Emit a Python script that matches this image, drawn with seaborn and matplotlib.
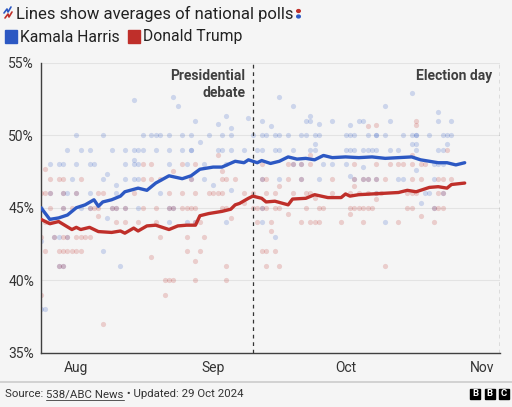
import pandas as pd
import matplotlib
matplotlib.use("Agg")
import matplotlib.pyplot as plt
from matplotlib.lines import Line2D
from matplotlib.patches import Rectangle, Circle
import seaborn as sns

# ---- data ----
harris_avg_dates = ["07-24", "07-26", "07-28", "07-30", "08-01", "08-03", "08-05", "08-06",
                    "08-07", "08-09", "08-11", "08-12", "08-15", "08-17", "08-19", "08-22",
                    "08-25", "08-27", "08-29", "09-01", "09-03", "09-06", "09-08", "09-09",
                    "09-11", "09-12", "09-14", "09-16", "09-18", "09-20", "09-22", "09-24",
                    "09-26", "09-28", "10-01", "10-04", "10-07", "10-10", "10-13", "10-16",
                    "10-18", "10-20", "10-22", "10-24", "10-26", "10-28"]
harris_avg = [45.0, 44.2, 44.3, 44.5, 45.0, 45.2, 45.55, 45.1,
              45.4, 45.55, 45.8, 46.1, 46.35, 46.2, 46.7, 47.2,
              47.0, 47.2, 47.65, 47.8, 47.8, 48.2, 48.1, 48.3,
              48.1, 48.25, 48.05, 48.2, 48.5, 48.35, 48.4, 48.3,
              48.6, 48.45, 48.5, 48.45, 48.5, 48.4, 48.45, 48.5,
              48.3, 48.2, 48.1, 48.1, 47.95, 48.1]

trump_avg_dates = ["07-24", "07-26", "07-28", "07-31", "08-01", "08-02", "08-04", "08-06",
                   "08-09", "08-11", "08-12", "08-14", "08-15", "08-17", "08-19", "08-22",
                   "08-24", "08-26", "08-28", "08-29", "08-31", "09-03", "09-05", "09-06",
                   "09-07", "09-09", "09-10", "09-12", "09-13", "09-15", "09-18", "09-19",
                   "09-22", "09-24", "09-27", "09-30", "10-01", "10-02", "10-04", "10-07",
                   "10-10", "10-13", "10-15", "10-17", "10-20", "10-22", "10-24", "10-25",
                   "10-28"]
trump_avg = [44.2, 43.9, 44.05, 43.5, 43.65, 43.5, 43.65, 43.36,
             43.3, 43.4, 43.25, 43.6, 43.4, 43.75, 43.8, 43.5,
             43.75, 43.8, 43.8, 44.45, 44.6, 44.75, 44.9, 45.2,
             45.3, 45.65, 45.8, 45.65, 45.4, 45.45, 45.2, 45.6,
             45.65, 45.9, 45.7, 45.7, 45.95, 45.8, 45.9, 45.95,
             46.0, 46.05, 46.2, 46.1, 46.4, 46.45, 46.35, 46.6,
             46.7]

harris_polls = [
    ("07-24", 45), ("07-24", 42.7), ("07-24", 38), ("07-25", 38),
    ("07-26", 48), ("07-26", 46), ("07-27", 43),
    ("07-28", 48), ("07-28", 43), ("07-28", 41),
    ("07-29", 48), ("07-29", 46), ("07-29", 45), ("07-29", 41),
    ("07-30", 49), ("07-30", 46), ("07-30", 43), ("07-31", 47),
    ("08-01", 50), ("08-01", 48), ("08-01", 46), ("08-02", 49), ("08-02", 45),
    ("08-04", 49), ("08-04", 48), ("08-04", 46), ("08-04", 45), ("08-05", 48),
    ("08-07", 50), ("08-07", 47), ("08-07", 42), ("08-08", 47.3), ("08-08", 44.3),
    ("08-09", 49), ("08-09", 45), ("08-10", 46.6), ("08-10", 46), ("08-10", 45),
    ("08-11", 41), ("08-12", 49), ("08-12", 48), ("08-12", 47), ("08-12", 45),
    ("08-14", 52.4), ("08-14", 49), ("08-14", 48.3), ("08-14", 48), ("08-14", 47),
    ("08-15", 49), ("08-15", 48), ("08-15", 47), ("08-15", 45),
    ("08-16", 50), ("08-16", 49), ("08-18", 50), ("08-19", 50), ("08-19", 49),
    ("08-20", 50), ("08-20", 46),
    ("08-22", 50), ("08-22", 49), ("08-22", 48), ("08-22", 45), ("08-22", 44),
    ("08-23", 52.6), ("08-23", 45), ("08-24", 52), ("08-25", 50), ("08-25", 49),
    ("08-26", 48), ("08-26", 44),
    ("08-27", 50), ("08-27", 49), ("08-27", 49), ("08-27", 47),
    ("08-28", 51), ("08-28", 44), ("08-29", 49.5), ("08-30", 48), ("08-30", 47),
    ("08-31", 50), ("09-01", 46.6), ("09-02", 50.8), ("09-02", 49),
    ("09-03", 50), ("09-03", 49), ("09-04", 51.3), ("09-04", 48), ("09-04", 44),
    ("09-05", 50.5), ("09-05", 50), ("09-05", 49), ("09-05", 46.2),
    ("09-08", 49), ("09-09", 51.2), ("09-10", 50), ("09-11", 49),
    ("09-12", 51), ("09-12", 50), ("09-12", 49), ("09-12", 47), ("09-12", 45), ("09-12", 44),
    ("09-13", 50), ("09-14", 50.6), ("09-15", 50), ("09-15", 49), ("09-15", 43),
    ("09-16", 52.6), ("09-16", 50), ("09-16", 49), ("09-16", 47), ("09-18", 50),
    ("09-19", 52), ("09-19", 49), ("09-19", 48),
    ("09-21", 50), ("09-21", 48), ("09-21", 47), ("09-22", 51), ("09-22", 50),
    ("09-23", 51.3), ("09-23", 51), ("09-23", 49),
    ("09-24", 50), ("09-24", 49.4), ("09-24", 49),
    ("09-25", 50.8), ("09-25", 50), ("09-25", 47), ("09-26", 48),
    ("09-28", 51), ("09-28", 48),
    ("10-01", 50), ("10-01", 49), ("10-01", 48),
    ("10-02", 50.7), ("10-02", 50), ("10-02", 49), ("10-02", 47.2),
    ("10-03", 50), ("10-03", 49), ("10-03", 47), ("10-04", 51),
    ("10-05", 51), ("10-05", 49), ("10-05", 47.8), ("10-05", 47),
    ("10-06", 50), ("10-06", 49), ("10-06", 47), ("10-07", 49),
    ("10-08", 50), ("10-08", 50), ("10-08", 49), ("10-08", 47), ("10-08", 46),
    ("10-10", 52), ("10-10", 50), ("10-10", 44), ("10-11", 51), ("10-11", 49),
    ("10-13", 49), ("10-13", 47), ("10-14", 50), ("10-14", 47),
    ("10-16", 52.9), ("10-16", 50), ("10-16", 49.4),
    ("10-17", 50), ("10-17", 50), ("10-17", 49.4), ("10-17", 49), ("10-17", 47.6),
    ("10-18", 45.3), ("10-19", 46), ("10-20", 50), ("10-20", 46),
    ("10-21", 48), ("10-21", 47), ("10-21", 45),
    ("10-22", 51.6), ("10-22", 51), ("10-22", 49), ("10-22", 48),
    ("10-23", 50), ("10-23", 49), ("10-23", 48), ("10-23", 46),
    ("10-24", 50), ("10-24", 49.4), ("10-25", 51), ("10-25", 50),
]

trump_polls = [
    ("07-24", 46), ("07-24", 43), ("07-24", 39),
    ("07-25", 47.7), ("07-25", 46), ("07-25", 44), ("07-25", 42),
    ("07-26", 47), ("07-26", 46), ("07-26", 45), ("07-26", 44), ("07-27", 43),
    ("07-28", 47), ("07-28", 42), ("07-28", 41),
    ("07-29", 47), ("07-29", 46), ("07-29", 45), ("07-29", 43), ("07-29", 42), ("07-29", 41),
    ("07-30", 43), ("07-30", 42), ("07-31", 45), ("07-31", 42),
    ("08-01", 46), ("08-01", 43), ("08-01", 42), ("08-02", 47), ("08-02", 43), ("08-02", 42),
    ("08-03", 43), ("08-04", 45), ("08-04", 43), ("08-05", 45),
    ("08-06", 46), ("08-06", 45), ("08-06", 44.4), ("08-07", 46), ("08-07", 37),
    ("08-09", 45), ("08-10", 45), ("08-10", 44), ("08-12", 45), ("08-12", 44),
    ("08-14", 46), ("08-15", 44), ("08-16", 48), ("08-16", 47), ("08-16", 45),
    ("08-18", 48), ("08-18", 47), ("08-18", 41.6), ("08-19", 45), ("08-19", 44),
    ("08-20", 47), ("08-20", 43), ("08-21", 40), ("08-21", 39),
    ("08-22", 46), ("08-22", 45), ("08-22", 40),
    ("08-23", 47.5), ("08-23", 45), ("08-23", 40),
    ("08-25", 48), ("08-25", 46), ("08-25", 45),
    ("08-26", 45), ("08-26", 43), ("08-26", 42), ("08-27", 47), ("08-27", 45),
    ("08-28", 48), ("08-28", 46), ("08-28", 45), ("08-28", 44), ("08-28", 41.3), ("08-28", 40),
    ("08-29", 44), ("08-29", 42), ("08-30", 43), ("08-31", 46), ("09-01", 46),
    ("09-02", 48.6), ("09-02", 46),
    ("09-03", 47.5), ("09-03", 47), ("09-03", 46), ("09-03", 45),
    ("09-04", 47), ("09-04", 45), ("09-04", 41), ("09-04", 40),
    ("09-05", 44.3), ("09-06", 47), ("09-08", 46), ("09-08", 45.3),
    ("09-10", 46), ("09-10", 45), ("09-11", 45), ("09-11", 44),
    ("09-12", 48), ("09-12", 47), ("09-12", 45), ("09-12", 42),
    ("09-13", 47), ("09-13", 46), ("09-13", 45), ("09-13", 42), ("09-13", 41),
    ("09-14", 44), ("09-14", 43.4), ("09-15", 46), ("09-15", 45), ("09-15", 42),
    ("09-16", 46.5), ("09-16", 45), ("09-16", 41),
    ("09-18", 48), ("09-18", 47), ("09-18", 44.6), ("09-19", 48), ("09-19", 46),
    ("09-21", 48), ("09-21", 47), ("09-21", 44), ("09-22", 46), ("09-22", 45),
    ("09-23", 48.6), ("09-23", 48), ("09-23", 46), ("09-23", 44),
    ("09-24", 45.7), ("09-24", 44), ("09-25", 45), ("09-25", 44), ("09-26", 45),
    ("09-28", 47), ("09-28", 46), ("09-30", 44),
    ("10-02", 46), ("10-02", 45), ("10-02", 44.6),
    ("10-03", 48), ("10-03", 47), ("10-03", 46.5), ("10-03", 45),
    ("10-04", 46), ("10-04", 45), ("10-05", 47), ("10-05", 45), ("10-05", 44),
    ("10-06", 50.6), ("10-06", 47), ("10-06", 46), ("10-06", 45), ("10-07", 45),
    ("10-08", 50.7), ("10-08", 48), ("10-08", 47), ("10-08", 46), ("10-08", 45.6),
    ("10-09", 46), ("10-10", 47), ("10-10", 41), ("10-11", 48),
    ("10-13", 48), ("10-13", 44), ("10-14", 48), ("10-15", 46), ("10-15", 45),
    ("10-16", 48.6), ("10-16", 48), ("10-16", 47), ("10-16", 46), ("10-16", 45),
    ("10-17", 51), ("10-17", 50.7), ("10-17", 46),
    ("10-18", 48), ("10-18", 47), ("10-18", 44.4), ("10-19", 48),
    ("10-21", 45), ("10-21", 44), ("10-22", 47), ("10-22", 46), ("10-22", 45),
    ("10-23", 47), ("10-23", 46), ("10-23", 45), ("10-24", 49), ("10-25", 47),
]

y_ticks = [35, 40, 45, 50, 55]
x_ticks = ["08-01", "09-01", "10-01", "11-01"]
x_tick_labels = ["Aug", "Sep", "Oct", "Nov"]
events = [("09-10", "Presidential", "debate"), ("11-05", "Election day", None)]

BG = "#f5f5f5"
BLUE = "#2c58c3"
RED = "#bf2f2a"
INK = "#404040"
W, H = 512, 407


def day(s):
    return pd.to_datetime("2024-" + s)


def avg_frame(dates, vals):
    return pd.DataFrame({"date": [day(d) for d in dates], "pct": vals})


def poll_frame(pairs):
    return pd.DataFrame({"date": [day(d) for d, _ in pairs], "pct": [v for _, v in pairs]})


def fx(px):
    return px / W


def fy(py):
    return 1 - py / H


sns.set_style("white", {"axes.facecolor": BG, "figure.facecolor": BG})
plt.rcParams["font.family"] = ["Roboto", "DejaVu Sans"]

fig = plt.figure(figsize=(W / 100, H / 100), dpi=100)
fig.patch.set_facecolor(BG)
ax = fig.add_axes([fx(41), fy(353), fx(500) - fx(41), fy(62.5) - fy(353)])
ax.set_facecolor(BG)

# poll dots
sns.scatterplot(data=poll_frame(harris_polls), x="date", y="pct", color=BLUE,
                alpha=0.2, s=14, linewidth=0, ax=ax, zorder=2)
sns.scatterplot(data=poll_frame(trump_polls), x="date", y="pct", color=RED,
                alpha=0.2, s=14, linewidth=0, ax=ax, zorder=2)

# polling averages
sns.lineplot(data=avg_frame(harris_avg_dates, harris_avg), x="date", y="pct",
             color=BLUE, lw=2.4, estimator=None, ax=ax, zorder=4)
sns.lineplot(data=avg_frame(trump_avg_dates, trump_avg), x="date", y="pct",
             color=RED, lw=2.4, estimator=None, ax=ax, zorder=4)

# event markers
for d, l1, l2 in events:
    ax.axvline(day(d), color="#333333", lw=0.9, ls=(0, (3, 3)), zorder=3)
    ax.annotate(l1, xy=(day(d), 55), xytext=(-5.5, -12.5), textcoords="offset points",
                ha="right", va="baseline", fontsize=10, fontweight="bold", color=INK)
    if l2:
        ax.annotate(l2, xy=(day(d), 55), xytext=(-5.5, -24.5), textcoords="offset points",
                    ha="right", va="baseline", fontsize=10, fontweight="bold", color=INK)

ax.set_xlim(day("07-24"), day("11-05"))
ax.set_ylim(35, 55)
ax.set_yticks(y_ticks)
ax.set_yticklabels([f"{v}%" for v in y_ticks])
ax.set_xticks([day(d) for d in x_ticks])
ax.set_xticklabels(x_tick_labels)
ax.set_xlabel("")
ax.set_ylabel("")
ax.yaxis.grid(True, color="#e3e3e3", lw=0.8, zorder=0)
ax.xaxis.grid(False)
ax.set_axisbelow(True)
for side in ["top", "right"]:
    ax.spines[side].set_visible(False)
for side in ["left", "bottom"]:
    ax.spines[side].set_color(INK)
    ax.spines[side].set_linewidth(1.0)
ax.tick_params(axis="both", colors=INK, labelcolor="#333333", labelsize=10,
               length=3, width=0.9, direction="out", pad=2)
ax.tick_params(axis="x", pad=3)

renderer = fig.canvas.get_renderer()

# title + icon
title = fig.text(fx(16), fy(19), "Lines show averages of national polls", fontsize=12,
                 color="#222222", va="baseline", ha="left")
t_end = 16 + title.get_window_extent(renderer).width + 5
fig.add_artist(Line2D([fx(4), fx(7), fx(8), fx(11)], [fy(13), fy(9), fy(12), fy(7)],
                      color=BLUE, lw=1.2, transform=fig.transFigure))
fig.add_artist(Line2D([fx(5), fx(8), fx(9), fx(12)], [fy(18), fy(14), fy(17), fy(12)],
                      color=RED, lw=1.2, transform=fig.transFigure))
fig.add_artist(Circle((fx(t_end), fy(11)), 0.0035, color=RED, transform=fig.transFigure))
fig.add_artist(Circle((fx(t_end), fy(16.5)), 0.0035, color=BLUE, transform=fig.transFigure))

# legend
fig.add_artist(Rectangle((fx(4.5), fy(42.5)), fx(12), fy(0) - fy(12), color=BLUE,
                         transform=fig.transFigure))
fig.text(fx(20), fy(41.5), "Kamala Harris", fontsize=11.3, color="#222222", va="baseline")
fig.add_artist(Rectangle((fx(127.5), fy(42.5)), fx(12), fy(0) - fy(12), color=RED,
                         transform=fig.transFigure))
fig.text(fx(143), fy(41.5), "Donald Trump", fontsize=11.3, color="#222222", va="baseline")

# footer
fig.add_artist(Line2D([0, 1], [fy(382), fy(382)], color="#cccccc", lw=1.2,
                      transform=fig.transFigure))
t1 = fig.text(fx(5), fy(397), "Source: ", fontsize=8.2, color="#333333", va="baseline")
x_px = 5 + t1.get_window_extent(renderer).width
t2 = fig.text(fx(x_px), fy(397), "538/ABC News", fontsize=8.2, color="#333333", va="baseline")
w2 = t2.get_window_extent(renderer).width
fig.add_artist(Line2D([fx(x_px), fx(x_px + w2)], [fy(399.5), fy(399.5)], color="#555555",
                      lw=0.7, transform=fig.transFigure))
fig.text(fx(x_px + w2), fy(397), " \u2022 Updated: 29 Oct 2024", fontsize=8.2,
         color="#333333", va="baseline")

for i, letter in enumerate("BBC"):
    x0 = 470 + i * 14.5
    fig.add_artist(Rectangle((fx(x0), fy(398.5)), fx(10), fy(0) - fy(10), color="#000000",
                             transform=fig.transFigure))
    fig.text(fx(x0 + 5), fy(393.3), letter, fontsize=6.8, fontweight="bold", color="white",
             ha="center", va="center")

fig.savefig("out.png", dpi=100, facecolor=BG)
